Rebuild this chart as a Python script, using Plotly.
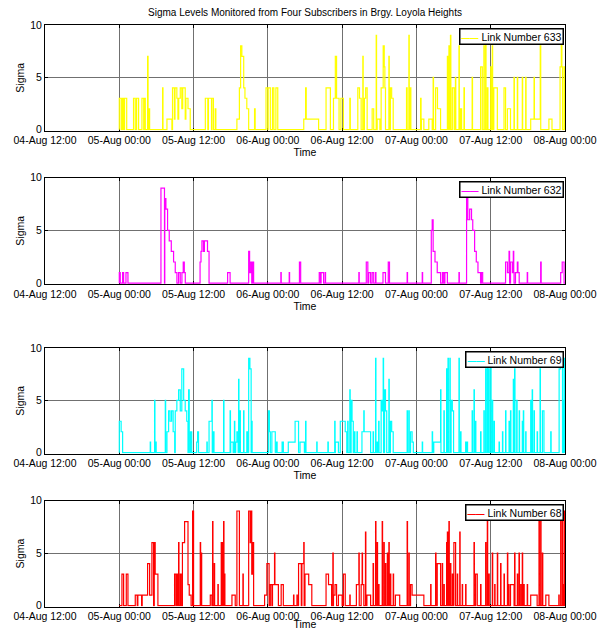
import pandas as pd
import plotly.graph_objects as go

# ---------------- data (hours after 05-Aug 00:00; pulses: start, end, sigma level) ----------------
link_names = ["Link Number 633", "Link Number 632", "Link Number 69", "Link Number 68"]
line_colors = ["#FFFF00", "#FF00FF", "#00FFFF", "#FF0000"]

pulses_633 = [
    (0.00, 0.30, 3), (0.50, 0.70, 3), (0.85, 1.20, 3), (2.30, 2.58, 3), (2.80, 3.12, 3),
    (3.66, 3.95, 3), (4.00, 4.20, 3), (4.57, 4.65, 7), (4.74, 4.90, 2), (7.00, 7.06, 4),
    (7.70, 8.50, 1), (8.60, 8.90, 4), (8.90, 9.00, 1), (9.00, 9.30, 4), (9.30, 9.47, 3),
    (9.47, 9.60, 1), (9.60, 9.85, 3), (9.85, 10.10, 4), (10.10, 10.25, 2), (10.25, 10.65, 4),
    (10.65, 10.76, 1), (10.76, 11.10, 3), (11.10, 11.46, 2), (13.90, 14.30, 3), (14.40, 14.90, 3),
    (14.95, 15.20, 3), (15.50, 15.60, 2), (19.00, 19.40, 1), (19.40, 19.60, 4), (19.60, 19.80, 8),
    (19.80, 20.10, 7), (20.10, 20.30, 4), (20.30, 20.60, 3), (20.60, 20.90, 2), (21.85, 21.95, 2),
    (23.70, 24.00, 4), (24.05, 24.40, 4), (24.75, 24.97, 4), (25.30, 25.60, 4), (29.80, 30.10, 1),
    (30.10, 30.20, 4), (30.20, 32.20, 1), (33.40, 34.10, 4), (34.60, 34.90, 3), (34.90, 35.10, 7),
    (35.10, 35.50, 3), (35.80, 36.20, 3), (37.24, 37.32, 3), (38.53, 38.80, 4), (38.80, 39.07, 3),
    (39.34, 39.40, 7), (39.60, 39.80, 3), (39.80, 40.04, 4), (40.85, 41.10, 2), (41.50, 41.56, 9),
    (41.66, 42.10, 1), (42.30, 42.63, 4), (42.63, 42.80, 8), (42.80, 42.90, 6), (42.90, 43.00, 4),
    (43.55, 43.61, 7), (43.80, 44.00, 4), (44.00, 44.25, 3), (46.40, 46.50, 4), (46.78, 46.84, 9),
    (47.00, 47.10, 4), (48.67, 48.75, 3), (48.80, 49.20, 1), (50.00, 50.55, 1), (50.70, 50.76, 5),
    (51.10, 51.40, 4), (51.40, 51.90, 2), (53.00, 53.06, 7), (53.25, 53.31, 8), (53.50, 53.56, 9),
    (53.80, 54.10, 4), (54.30, 54.36, 5), (54.87, 54.93, 8), (55.10, 55.30, 2), (55.68, 55.75, 4),
    (57.00, 57.06, 5), (58.37, 58.64, 6), (58.90, 58.96, 8), (59.18, 59.24, 9), (59.45, 59.55, 4),
    (60.00, 60.06, 6), (60.25, 60.31, 8), (60.50, 61.07, 4), (62.15, 62.40, 4), (62.70, 63.20, 2),
    (63.76, 63.82, 5), (64.30, 64.36, 5), (65.10, 65.16, 5), (65.65, 65.71, 5), (66.46, 67.00, 1),
    (67.00, 67.06, 5), (67.06, 68.00, 1), (68.00, 68.08, 8), (69.40, 69.90, 1), (71.20, 71.40, 6),
    (71.40, 71.50, 9), (71.50, 71.60, 6), (71.85, 72.00, 6),
]

pulses_632 = [
    (0.00, 0.16, 1), (0.54, 0.70, 1), (1.08, 1.40, 1), (6.73, 7.30, 9), (7.35, 7.53, 8),
    (7.53, 7.80, 7), (7.80, 8.07, 5), (8.07, 8.40, 4), (8.40, 8.77, 3), (8.77, 9.04, 2),
    (9.04, 9.31, 1), (9.58, 9.85, 1), (10.12, 10.33, 1), (10.33, 10.50, 2), (10.50, 10.66, 1),
    (13.05, 13.20, 2), (13.20, 13.35, 3), (13.35, 13.60, 4), (13.60, 13.75, 3), (13.75, 14.25, 4),
    (14.25, 14.50, 3), (17.50, 17.90, 1), (20.90, 21.05, 3), (21.05, 21.25, 1), (21.25, 21.40, 2),
    (21.50, 21.70, 2), (26.10, 26.16, 1), (27.45, 27.51, 1), (29.10, 29.30, 2), (32.30, 32.50, 1),
    (32.60, 33.00, 1), (33.26, 33.32, 1), (38.70, 38.76, 1), (39.90, 40.15, 2), (40.30, 40.60, 1),
    (40.85, 41.10, 1), (41.40, 41.46, 1), (42.60, 43.00, 1), (43.45, 43.65, 2), (46.50, 46.56, 1),
    (48.94, 49.00, 1), (50.40, 50.55, 5), (50.55, 50.70, 6), (50.70, 51.00, 3), (51.00, 51.36, 2),
    (51.36, 51.90, 1), (52.20, 52.40, 1), (52.60, 53.00, 1), (54.87, 54.93, 1), (56.10, 56.30, 8),
    (56.30, 56.60, 6), (56.60, 56.90, 7), (56.90, 57.10, 6), (57.10, 57.40, 5), (57.40, 57.67, 3),
    (57.67, 57.94, 2), (57.94, 58.36, 1), (58.50, 58.70, 1), (62.40, 62.70, 2), (62.70, 62.96, 1),
    (62.96, 63.05, 3), (63.20, 63.50, 2), (63.50, 63.65, 1), (63.65, 63.72, 3), (63.72, 63.77, 1),
    (64.00, 64.30, 1), (64.30, 64.40, 2), (64.40, 64.60, 1), (65.90, 65.96, 1), (68.07, 68.15, 2),
    (71.30, 71.55, 1), (71.55, 71.85, 2),
]

pulses_69 = [
    (0.00, 0.30, 3), (0.30, 0.54, 2), (5.00, 5.06, 1), (5.70, 5.76, 5), (5.90, 5.96, 1),
    (7.43, 7.49, 5), (7.70, 7.97, 2), (7.97, 8.20, 4), (8.20, 8.45, 3), (8.45, 8.70, 4),
    (8.70, 8.95, 2), (9.04, 9.30, 4), (9.30, 9.58, 5), (9.58, 9.85, 6), (9.85, 10.10, 4),
    (10.10, 10.40, 8), (10.40, 10.65, 5), (10.65, 10.90, 4), (10.90, 11.10, 3), (11.20, 11.30, 6),
    (11.50, 11.70, 2), (12.50, 12.65, 1), (12.65, 12.80, 2), (14.15, 14.21, 1), (14.50, 14.96, 3),
    (14.96, 15.02, 5), (15.20, 15.30, 2), (16.85, 16.91, 5), (17.90, 17.96, 4), (18.00, 18.40, 1),
    (18.60, 18.66, 3), (18.80, 19.00, 1), (19.00, 19.20, 2), (19.27, 19.33, 7), (19.50, 19.56, 4),
    (20.08, 20.14, 4), (20.60, 20.70, 2), (20.90, 21.10, 9), (21.10, 21.30, 8), (21.40, 21.46, 3),
    (24.10, 24.25, 4), (24.25, 24.40, 2), (24.65, 25.20, 2), (25.40, 25.50, 1), (26.30, 26.50, 1),
    (27.30, 28.40, 1), (28.40, 28.96, 3), (29.20, 29.90, 1), (30.10, 30.16, 3), (31.90, 31.96, 1),
    (33.70, 33.76, 1), (34.80, 34.86, 3), (34.90, 35.40, 1), (35.70, 36.50, 3), (36.50, 36.75, 2),
    (36.90, 36.96, 3), (37.24, 37.30, 6), (37.45, 37.60, 5), (37.60, 37.80, 3), (38.00, 38.06, 2),
    (38.40, 38.46, 2), (39.20, 39.50, 2), (39.50, 39.56, 4), (39.56, 40.60, 2), (41.00, 41.06, 2),
    (41.40, 41.46, 9), (41.66, 41.72, 1), (41.90, 41.96, 3), (42.30, 42.45, 5), (42.45, 42.63, 4),
    (42.63, 42.69, 9), (42.85, 43.00, 6), (43.00, 43.20, 4), (43.55, 43.61, 7), (43.80, 44.00, 3),
    (44.00, 44.25, 2), (46.50, 46.56, 4), (46.78, 46.84, 4), (47.05, 47.30, 2), (47.30, 47.50, 1),
    (48.94, 49.00, 1), (50.55, 50.61, 2), (50.80, 51.90, 1), (51.90, 51.96, 6), (52.44, 52.50, 4),
    (52.87, 52.93, 8), (53.10, 53.16, 9), (53.40, 53.46, 9), (53.60, 53.80, 5), (53.80, 54.00, 4),
    (54.87, 54.93, 9), (55.14, 55.20, 2), (55.95, 56.01, 1), (56.20, 56.26, 1), (57.00, 57.06, 4),
    (57.30, 57.36, 6), (57.50, 57.60, 3), (58.37, 58.43, 2), (58.90, 58.96, 4), (59.18, 59.24, 8),
    (59.45, 59.51, 9), (59.70, 59.76, 8), (60.00, 60.06, 9), (60.26, 60.32, 5), (60.53, 60.60, 3),
    (61.35, 61.41, 1), (61.90, 61.96, 2), (62.40, 62.46, 4), (62.96, 63.02, 3), (63.20, 63.26, 4),
    (63.65, 63.71, 7), (63.86, 63.92, 8), (64.20, 64.26, 5), (64.60, 64.66, 4), (65.10, 65.16, 3),
    (65.27, 65.33, 4), (65.65, 65.71, 2), (66.46, 66.52, 5), (66.70, 66.76, 6), (67.00, 67.06, 4),
    (67.50, 67.56, 2), (67.97, 68.03, 8), (68.35, 68.60, 4), (69.70, 69.76, 2), (71.05, 71.30, 8),
    (71.30, 71.60, 9), (71.75, 71.81, 5), (71.85, 72.00, 9),
]

pulses_68 = [
    (0.43, 0.70, 3), (1.13, 1.40, 3), (2.58, 2.90, 1), (3.00, 3.60, 1), (3.70, 4.57, 1),
    (4.57, 4.90, 4), (4.90, 5.27, 1), (5.27, 5.54, 6), (5.65, 5.80, 6), (5.80, 6.24, 3),
    (8.93, 9.15, 3), (9.30, 9.40, 3), (9.58, 9.64, 6), (9.85, 10.00, 3), (10.20, 10.55, 6),
    (10.55, 11.10, 8), (11.10, 11.30, 2), (11.30, 11.60, 1), (11.84, 12.00, 9), (13.08, 13.14, 6),
    (13.25, 13.31, 5), (14.70, 14.96, 1), (15.07, 15.13, 8), (15.34, 15.40, 4), (15.93, 15.99, 2),
    (16.47, 16.53, 6), (16.70, 16.76, 6), (16.85, 16.91, 8), (17.00, 17.06, 3), (18.20, 18.73, 1),
    (19.00, 19.40, 9), (19.97, 20.03, 3), (20.90, 21.15, 9), (21.15, 21.25, 6), (21.25, 21.40, 9),
    (21.40, 21.55, 3), (21.55, 21.70, 6), (23.47, 23.84, 1), (23.84, 24.20, 4), (24.40, 24.65, 2),
    (24.75, 25.08, 2), (25.08, 25.14, 5), (25.14, 25.70, 2), (26.15, 26.50, 2), (28.15, 28.21, 1),
    (28.70, 28.76, 1), (28.96, 29.40, 4), (29.50, 29.80, 4), (29.80, 29.86, 6), (30.00, 30.60, 3),
    (30.60, 31.10, 2), (33.40, 33.80, 3), (33.80, 34.30, 2), (34.50, 34.56, 5), (34.60, 34.85, 1),
    (34.85, 35.10, 2), (35.40, 36.00, 1), (36.20, 36.50, 3), (37.24, 37.30, 1), (38.30, 38.70, 2),
    (38.70, 38.76, 5), (39.07, 39.23, 2), (39.23, 39.29, 5), (39.29, 39.50, 2), (39.77, 39.83, 7),
    (40.00, 40.60, 1), (41.00, 41.06, 4), (41.40, 41.46, 8), (41.66, 41.72, 6), (41.90, 41.96, 2),
    (42.47, 42.53, 8), (42.74, 42.80, 6), (43.00, 43.06, 4), (43.30, 43.36, 5), (43.55, 43.61, 6),
    (43.80, 43.86, 3), (44.25, 44.31, 3), (44.60, 45.30, 1), (46.50, 46.56, 8), (46.78, 46.84, 5),
    (47.05, 47.30, 2), (47.30, 49.20, 1), (50.30, 50.36, 2), (51.10, 51.16, 5), (51.36, 51.90, 4),
    (52.17, 52.23, 4), (52.44, 52.50, 2), (52.87, 52.93, 6), (53.00, 53.06, 7), (53.25, 53.31, 8),
    (53.50, 53.56, 4), (53.80, 53.86, 3), (54.05, 54.33, 6), (54.60, 54.66, 3), (55.00, 55.06, 7),
    (55.40, 55.46, 2), (55.95, 56.01, 2), (57.30, 57.36, 6), (57.56, 57.83, 3), (58.37, 58.43, 2),
    (59.18, 59.24, 6), (59.45, 59.51, 8), (59.70, 59.76, 3), (60.26, 60.32, 5), (60.64, 60.70, 2),
    (61.07, 61.13, 5), (61.60, 61.66, 4), (62.15, 62.21, 3), (62.70, 62.76, 5), (62.90, 62.96, 2),
    (63.20, 63.77, 2), (63.86, 63.92, 5), (64.30, 64.36, 3), (64.57, 64.63, 5), (64.84, 64.90, 2),
    (65.10, 65.16, 5), (65.35, 65.41, 2), (65.90, 65.96, 2), (66.46, 67.50, 1), (67.80, 67.86, 8),
    (68.07, 68.13, 8), (68.35, 68.41, 5), (68.90, 69.40, 1), (71.00, 71.06, 1), (71.30, 71.36, 8),
    (71.58, 71.64, 9), (71.75, 71.81, 2), (71.90, 72.00, 9),
]

tick_labels = ["04-Aug 12:00", "05-Aug 00:00", "05-Aug 12:00", "06-Aug 00:00",
               "06-Aug 12:00", "07-Aug 00:00", "07-Aug 12:00", "08-Aug 00:00"]
y_ticks = [0, 5, 10]

# ---------------- helpers ----------------
T0 = pd.Timestamp("2013-08-05 00:00")
tick_vals = [T0 + pd.Timedelta(hours=h) for h in range(-12, 73, 12)]


def stairs(pulses, t_end=72.0):
    t, v = [0.0], [0]
    last_end = 0.0
    for s, e, lev in sorted(pulses):
        if s > last_end + 1e-9:
            t.append(last_end)
            v.append(0)
        t.append(s)
        v.append(lev)
        last_end = e
    t.append(last_end)
    v.append(0)
    t.append(t_end)
    v.append(0)
    return [T0 + pd.Timedelta(hours=h) for h in t], v


# page body has an 8px margin, so the figure is laid out in (page px - 8)
OFF = 8
W, H = 612 - 2 * OFF, 630 - OFF
X_L, X_R = 45 - OFF, 565 - OFF
panels = [(25 - OFF, 130.5 - OFF), (177.5 - OFF, 284 - OFF),
          (348 - OFF, 453.5 - OFF), (500.5 - OFF, 606.5 - OFF)]
FONT = "Liberation Sans, Arial, sans-serif"

fig = go.Figure()
all_pulses = [pulses_633, pulses_632, pulses_69, pulses_68]
annotations = []

for i, (pulses, name, col) in enumerate(zip(all_pulses, link_names, line_colors)):
    k = "" if i == 0 else str(i + 1)
    xs, ys = stairs(pulses)
    fig.add_trace(go.Scatter(
        x=xs, y=ys, mode="lines", name=name, showlegend=False,
        line=dict(color=col, width=1.2, shape="hv"),
        xaxis="x" + k, yaxis="y" + k,
    ))
    top, bot = panels[i]
    xa = dict(
        domain=[X_L / W, X_R / W], anchor="y" + k,
        range=[tick_vals[0], tick_vals[-1]],
        tickvals=tick_vals, ticktext=tick_labels,
        showgrid=True, gridcolor="#707070", gridwidth=0.6,
        showline=True, linecolor="black", linewidth=1, mirror="ticks",
        ticks="inside", ticklen=3, tickcolor="black",
        tickfont=dict(family=FONT, size=10.5, color="black"),
        title=dict(text="Time", font=dict(family=FONT, size=10.5, color="black"), standoff=0),
        automargin=False, zeroline=False, layer="below traces",
    )
    ya = dict(
        domain=[1 - bot / H, 1 - top / H], anchor="x" + k,
        range=[-0.08, 10], tickvals=y_ticks,
        showgrid=True, gridcolor="#707070", gridwidth=0.6,
        showline=True, linecolor="black", linewidth=1, mirror="ticks",
        ticks="inside", ticklen=3, tickcolor="black",
        tickfont=dict(family=FONT, size=10.5, color="black"),
        title=dict(text="Sigma", font=dict(family=FONT, size=10.5, color="black"), standoff=3),
        automargin=False, zeroline=False, layer="below traces",
    )
    fig.layout["xaxis" + k] = xa
    fig.layout["yaxis" + k] = ya
    # legend box (MATLAB style) drawn as a bordered text box
    annotations.append(dict(
        xref="paper", yref="paper",
        x=(X_R - 1) / W, xanchor="right", y=1 - (top + 3) / H, yanchor="top",
        text=f"<span style='color:{col};font-weight:bold;font-size:8.5px'>——</span> {name}",
        showarrow=False, align="left",
        bgcolor="white", bordercolor="black", borderwidth=1.5, borderpad=1,
        font=dict(family=FONT, size=10.5, color="black"),
    ))

fig.update_layout(
    width=W, height=H, margin=dict(l=0, r=0, t=0, b=0),
    paper_bgcolor="white", plot_bgcolor="white",
    annotations=annotations,
    title=dict(text="Sigma Levels Monitored from Four Subscribers in Brgy. Loyola Heights",
               x=((X_L + X_R) / 2) / W, xanchor="center", y=1 - (12 - OFF) / H, yanchor="middle",
               font=dict(family=FONT, size=10, color="black")),
)

fig.write_html("out.html")
